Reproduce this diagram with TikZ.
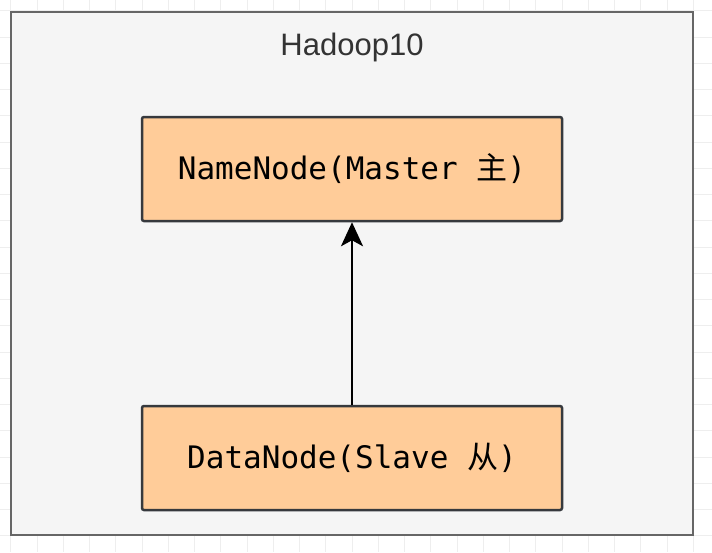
\documentclass[tikz,border=0pt]{standalone}
\usepackage{fontspec}
\setmainfont{Liberation Sans}
\newfontfamily\monofont{DejaVu Sans Mono}
\newfontfamily\cjk{Noto Sans CJK SC}
\usetikzlibrary{arrows.meta}
\definecolor{gridc}{HTML}{EEEEEE}
\definecolor{outerfill}{HTML}{F5F5F5}
\definecolor{outerdraw}{HTML}{666666}
\definecolor{boxfill}{HTML}{FFCC99}
\definecolor{boxdraw}{HTML}{36393D}
\definecolor{titlec}{HTML}{333333}
\tikzset{
  outerbox/.style={draw=outerdraw, fill=outerfill, line width=2.5pt},
  rolebox/.style={draw=boxdraw, fill=boxfill, line width=2.5pt, rounded corners=2pt,
    minimum width=420pt, minimum height=104pt, inner sep=0pt,
    font=\fontsize{31}{36}\selectfont\monofont},
  link/.style={line width=2.5pt, -{Stealth[length=24pt,width=22pt,inset=6pt]}}
}
\begin{document}
\begin{tikzpicture}[x=1pt,y=-1pt]
\useasboundingbox (0,0) rectangle (712,552);
\fill[white] (0,0) rectangle (712,552);
\foreach \k in {-1,...,26} {
  \draw[gridc, line width=1pt] ({37+26.25*\k},0) -- ({37+26.25*\k},552);
  \draw[gridc, line width=1pt] (0,{37+26.25*\k}) -- (712,{37+26.25*\k});
}
\draw[outerbox] (11,12) rectangle (693,535);
\node[text=titlec, font=\fontsize{31}{36}\selectfont] (title) at (352,47) {Hadoop10};
\node[rolebox] (nn) at (352,169) {NameNode(Master {\cjk 主})};
\node[rolebox] (dn) at (352,458) {DataNode(Slave {\cjk 从})};
\draw[link] (dn.north) -- (nn.south);
\end{tikzpicture}
\end{document}
